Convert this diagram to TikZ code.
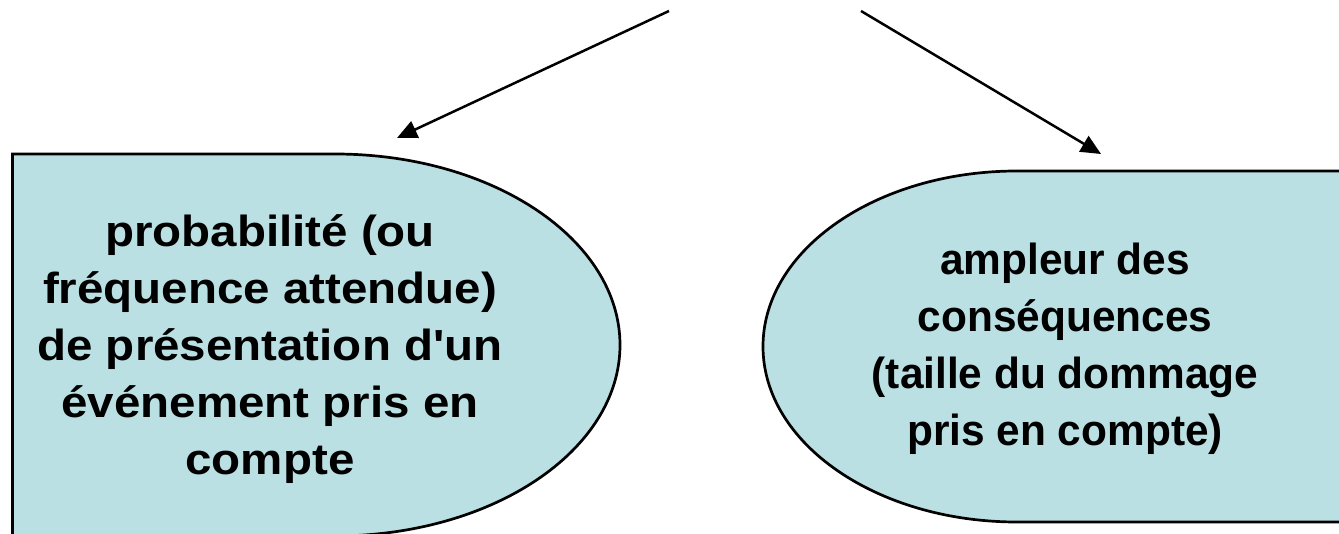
\documentclass[tikz,border=0pt]{standalone}
\usepackage{fontspec}
\setmainfont{Liberation Sans}
\usetikzlibrary{arrows.meta}
\definecolor{shapefill}{RGB}{186,224,227}
\tikzset{
  blob/.style={fill=shapefill, draw=black, line width=2.7pt},
  lbl/.style={anchor=base, inner sep=0pt, font=\bfseries\fontsize{43.5}{57}\selectfont},
  conn/.style={line width=2.5pt, -{Triangle[length=20pt,width=18pt]}}
}
\begin{document}
\begin{tikzpicture}[x=1pt,y=-1pt]
\useasboundingbox (0,0) rectangle (1339,534);
% left shape
\path[blob] (12.5,545) -- (12.5,154) -- (335,154)
  arc[start angle=-90,end angle=90,x radius=285,y radius=191] -- (12.5,536);
% right shape
\path[blob] (1350,171) -- (1017,171)
  arc[start angle=270,end angle=90,x radius=254,y radius=175.5] -- (1350,522);
\node[lbl] (prob) at (270,247) {\scalebox{1.092}[1]{\begin{tabular}[t]{@{}c@{}}probabilité (ou\\fréquence attendue)\\de présentation d\textquotesingle un\\événement pris en\\compte\end{tabular}}};
\node[lbl] (ampl) at (1065,275) {\scalebox{0.975}[1]{\begin{tabular}[t]{@{}c@{}}ampleur des\\conséquences\\(taille du dommage\\pris en compte)\end{tabular}}};
\coordinate (s1) at (669,11);
\coordinate (t1) at (397,138);
\coordinate (s2) at (861,11);
\coordinate (t2) at (1101,154);
\draw[conn] (s1) -- (t1);
\draw[conn] (s2) -- (t2);
\end{tikzpicture}
\end{document}
